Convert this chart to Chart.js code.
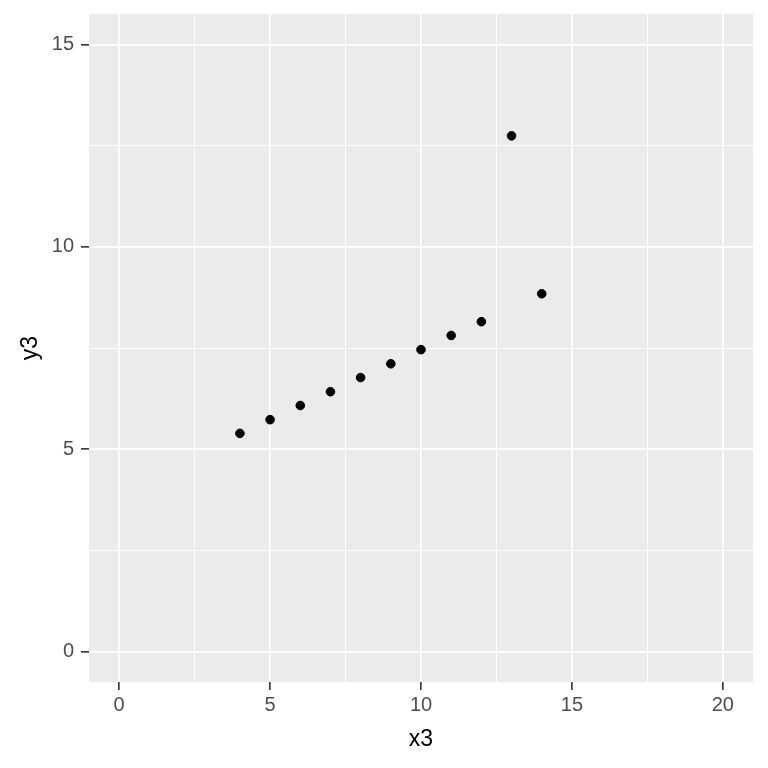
<!DOCTYPE html>
<html>
<head>
<meta charset="utf-8">
<script src="https://cdn.jsdelivr.net/npm/chart.js@4"></script>
<style>
  html, body { margin: 0; padding: 0; background: #fff; }
  #wrap { width: 768px; height: 768px; }
</style>
</head>
<body>
<div id="wrap"><canvas id="c" width="768" height="768"></canvas></div>
<script>
// Anscombe set 3
const x3 = [10, 8, 13, 9, 11, 14, 6, 4, 12, 7, 5];
const y3 = [7.46, 6.77, 12.74, 7.11, 7.81, 8.84, 6.08, 5.39, 8.15, 6.42, 5.73];
const xTicks = [0, 5, 10, 15, 20];
const yTicks = [0, 5, 10, 15];

const FONT = "'Liberation Sans', Arial, sans-serif";

// grey panel behind the plot area
const panelBg = {
  id: 'panelBg',
  beforeDraw(chart) {
    const { ctx, chartArea: a } = chart;
    ctx.save();
    ctx.fillStyle = '#EBEBEB';
    ctx.fillRect(a.left, a.top, a.right - a.left, a.bottom - a.top);
    ctx.restore();
  }
};

function withMinor(major) {
  const out = [];
  for (let i = 0; i < major.length; i++) {
    out.push(major[i]);
    if (i < major.length - 1) out.push((major[i] + major[i + 1]) / 2);
  }
  return out;
}
const isMajor = (list, v) => list.includes(v);

const chart = new Chart(document.getElementById('c'), {
  type: 'scatter',
  data: {
    datasets: [{
      data: x3.map((x, i) => ({ x: x, y: y3[i] })),
      backgroundColor: '#000',
      borderColor: '#000',
      pointRadius: 4.3,
      borderWidth: 1
    }]
  },
  plugins: [panelBg],
  options: {
    responsive: false,
    animation: false,
    layout: { padding: { top: 14, right: 15, left: 0, bottom: 0 } },
    plugins: { legend: { display: false }, tooltip: { enabled: false } },
    scales: {
      x: {
        type: 'linear',
        min: -1, max: 21,
        afterBuildTicks(s) { s.ticks = withMinor(xTicks).map(v => ({ value: v })); },
        afterFit(s) { s.height = 86; s.paddingLeft = 0; s.paddingRight = 0; },
        border: { display: false },
        grid: {
          color: '#fff',
          lineWidth: c => isMajor(xTicks, c.tick.value) ? 1.7 : 0.9,
          tickColor: c => isMajor(xTicks, c.tick.value) ? '#333333' : 'rgba(0,0,0,0)',
          tickLength: 8,
          tickWidth: 1.6
        },
        ticks: {
          autoSkip: false,
          maxRotation: 0,
          padding: 3,
          color: '#4D4D4D',
          font: { family: FONT, size: 20 },
          callback: v => isMajor(xTicks, v) ? String(v) : ''
        },
        title: {
          display: true, text: 'x3', color: '#000',
          font: { family: FONT, size: 23 },
          padding: { top: 6, bottom: 15 }
        }
      },
      y: {
        type: 'linear',
        min: -0.75, max: 15.75,
        afterBuildTicks(s) { s.ticks = withMinor(yTicks).map(v => ({ value: v })); },
        afterFit(s) { s.width = 89; s.paddingTop = 0; s.paddingBottom = 0; },
        border: { display: false },
        grid: {
          color: '#fff',
          lineWidth: c => isMajor(yTicks, c.tick.value) ? 1.7 : 0.9,
          tickColor: c => isMajor(yTicks, c.tick.value) ? '#333333' : 'rgba(0,0,0,0)',
          tickLength: 8,
          tickWidth: 1.6
        },
        ticks: {
          autoSkip: false,
          padding: 7,
          color: '#4D4D4D',
          font: { family: FONT, size: 20 },
          callback: v => isMajor(yTicks, v) ? String(v) : ''
        },
        title: {
          display: true, text: 'y3', color: '#000',
          font: { family: FONT, size: 23 },
          padding: { top: 17, bottom: 0 }
        }
      }
    }
  }
});
</script>
</body>
</html>
